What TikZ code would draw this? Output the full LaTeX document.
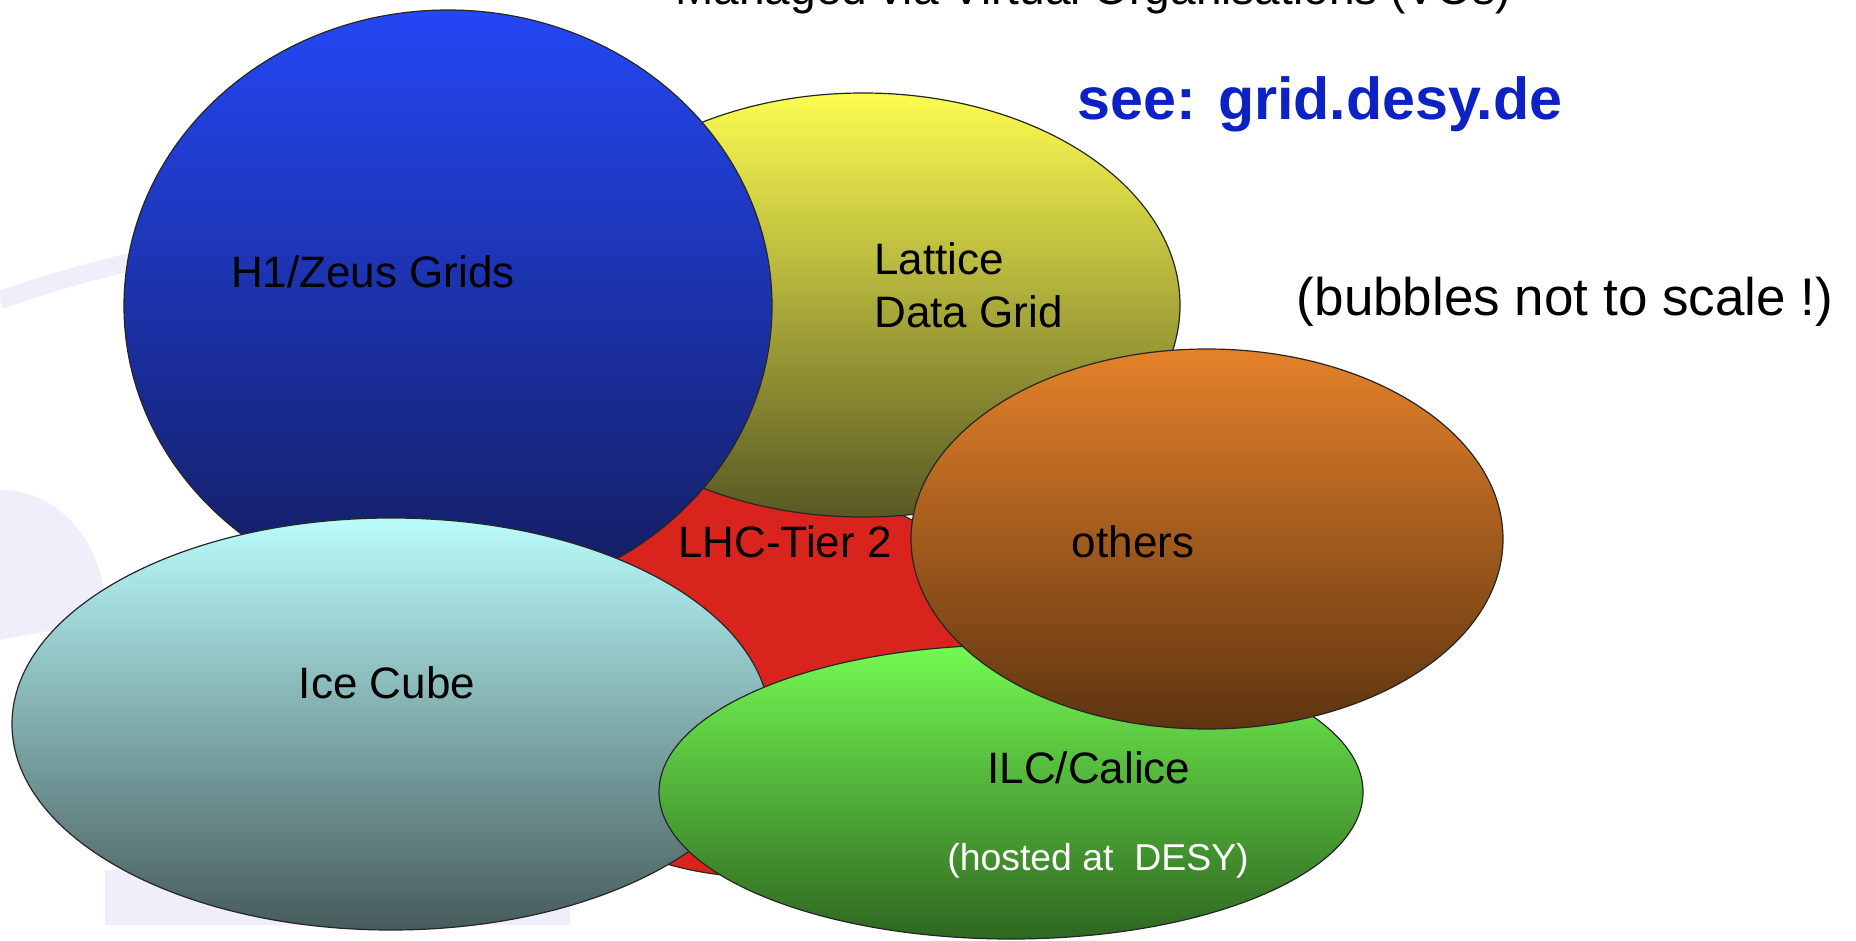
\documentclass[tikz,border=0pt]{standalone}
\usepackage{fontspec}
\setmainfont{Liberation Sans}
\usetikzlibrary{shapes.geometric, positioning}
\definecolor{wmark}{HTML}{EFEEFA}
\definecolor{linkblue}{HTML}{0C22C4}
\tikzset{
    bubble/.style={ellipse, draw=black!85, line width=0.6pt, inner sep=0pt},
    bubble text/.style={font=\fontsize{22}{26.5}\selectfont, align=left, inner sep=0pt},
    note text/.style={font=\fontsize{26.5}{30}\selectfont, inner sep=0pt}
}

\begin{document}
\begin{tikzpicture}[x=0.5pt, y=-0.5pt]
    \useasboundingbox (0,0) rectangle (1856,941);
    \clip (0,0) rectangle (1856,941);

    % faint background logo
    \draw[wmark, line width=9pt] (0,300) .. controls (100,265) and (180,250) .. (260,240);
    \fill[wmark] (0,490) .. controls (70,490) and (110,560) .. (105,620) -- (0,640) -- cycle;
    \fill[wmark] (105,870) rectangle (570,925);

    % bubbles, back to front
    \node[bubble, fill={rgb,255:red,216;green,36;blue,28}, minimum width=260pt, minimum height=197pt] (lhcbubble) at (760,680) {};
    \node[bubble, top color={rgb,255:red,252;green,252;blue,80}, middle color={rgb,255:red,180;green,178;blue,62}, bottom color={rgb,255:red,88;green,88;blue,36}, minimum width=317pt, minimum height=212pt] (latticebubble) at (863,305) {};
    \node[bubble, top color={rgb,255:red,36;green,71;blue,245}, middle color={rgb,255:red,32;green,56;blue,190}, bottom color={rgb,255:red,19;green,28;blue,92}, minimum width=324pt, minimum height=296pt] (zeusbubble) at (448,306) {};
    \node[bubble, top color={rgb,255:red,186;green,252;blue,252}, middle color={rgb,255:red,140;green,184;blue,183}, bottom color={rgb,255:red,71;green,91;blue,92}, minimum width=379pt, minimum height=206pt] (icebubble) at (391,724) {};
    \node[bubble, top color={rgb,255:red,116;green,250;blue,82}, middle color={rgb,255:red,92;green,196;blue,64}, bottom color={rgb,255:red,46;green,102;blue,32}, minimum width=352pt, minimum height=147pt] (ilcbubble) at (1011,792) {};
    \node[bubble, top color={rgb,255:red,229;green,130;blue,42}, middle color={rgb,255:red,180;green,96;blue,30}, bottom color={rgb,255:red,94;green,52;blue,16}, minimum width=296pt, minimum height=190pt] (othersbubble) at (1207,539) {};

    % labels
    \node[bubble text] (zeus) at (373,272) {H1/Zeus Grids};
    \node[bubble text, anchor=west] (lattice) at (874,285) {Lattice\\Data Grid};
    \node[bubble text] (lhc) at (785,542) {LHC-Tier 2};
    \node[bubble text] (others) at (1133,542) {others};
    \node[bubble text] (ice) at (387,683) {Ice Cube};
    \node[bubble text] (ilc) at (1089,768) {ILC/Calice};
    \node[bubble text, white, font=\fontsize{18.7}{22}\selectfont] (hosted) at (1098,861) {(hosted at\ \ DESY)};

    \node[note text] (scale) at (1565,302) {(bubbles not to scale !)};
    \node[note text, linkblue, font=\fontsize{29.6}{34}\selectfont\bfseries] (see) at (1320,104) {see: grid.desy.de};
    \node[bubble text, font=\fontsize{23}{27}\selectfont, anchor=base] (managed) at (1093,5) {Managed via Virtual Organisations (VOs)};
\end{tikzpicture}
\end{document}
